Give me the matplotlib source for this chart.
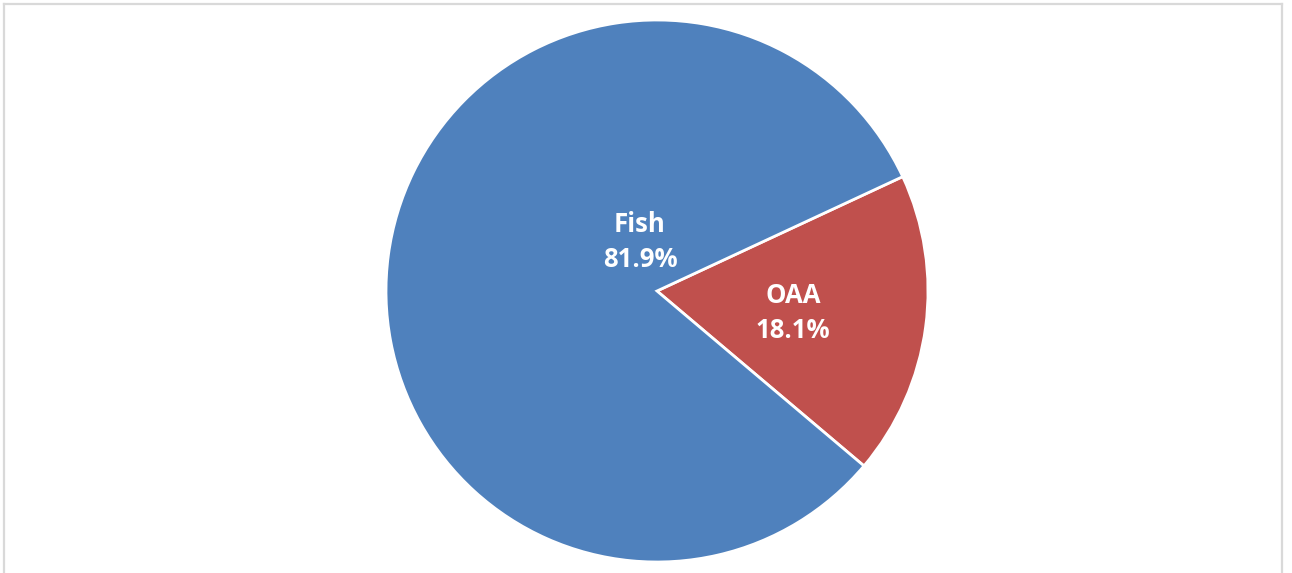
import matplotlib.pyplot as plt
from matplotlib.lines import Line2D

labels = ["OAA", "Fish"]
shares = [18.1, 81.9]
colors = ["#C0504D", "#4F81BD"]

W, H = 1292, 573
fig = plt.figure(figsize=(W / 100, H / 100), dpi=100)
ax = fig.add_axes([0, 0, 1, 1])

cx, cy, r = 657, H - 291, 271
wedges, _ = ax.pie(shares, colors=colors, startangle=-40.2, counterclock=True,
                   center=(cx, cy), radius=r,
                   wedgeprops=dict(edgecolor="white", linewidth=2.0))
ax.set_xlim(0, W)
ax.set_ylim(0, H)
ax.set_aspect("auto")
ax.axis("off")

# label positions (pixels from top-left)
label_pos = {"Fish": (640, 242), "OAA": (793, 313)}
for lab, val in zip(labels, shares):
    x, y = label_pos[lab]
    ax.text(x, H - y, "{}\n{:.1f}%".format(lab, val), ha="center", va="center",
            color="white", fontsize=18.5, fontweight="bold", family="Open Sans",
            linespacing=1.38)

# chart border (light gray)
bc = "#D9D9D9"
fig.add_artist(Line2D([4 / W, 4 / W], [0, 1 - 4 / H], color=bc, lw=1.6, transform=fig.transFigure))
fig.add_artist(Line2D([4 / W, 1282 / W], [1 - 4 / H, 1 - 4 / H], color=bc, lw=1.6, transform=fig.transFigure))
fig.add_artist(Line2D([1282 / W, 1282 / W], [0, 1 - 4 / H], color=bc, lw=1.6, transform=fig.transFigure))

fig.savefig("out.png", dpi=100)
